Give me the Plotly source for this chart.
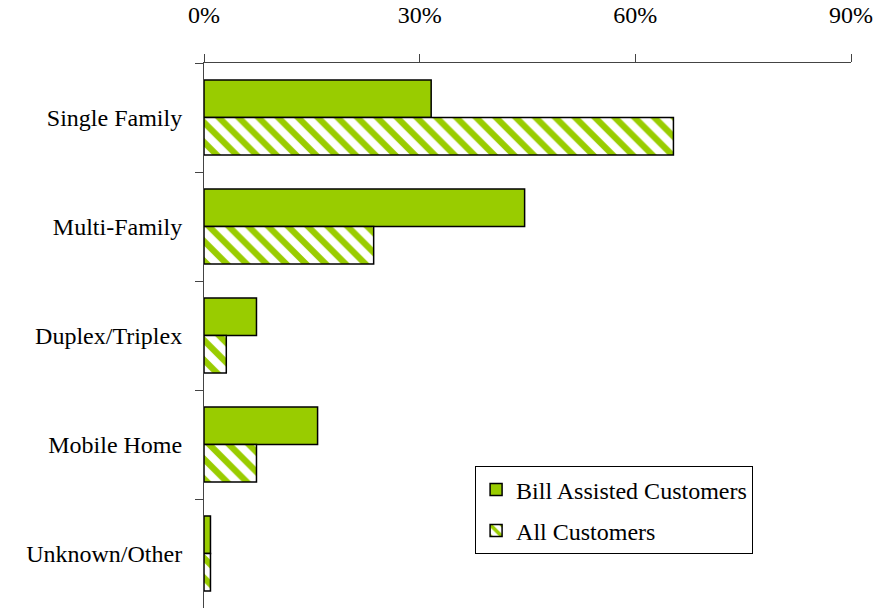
import plotly.graph_objects as go

categories = ["Single Family", "Multi-Family", "Duplex/Triplex", "Mobile Home", "Unknown/Other"]
bill_assisted = [31.6, 44.6, 7.3, 15.8, 0.9]
all_customers = [65.3, 23.6, 3.1, 7.3, 0.9]
x_ticks = [0, 30, 60, 90]
x_tick_labels = ["0%", "30%", "60%", "90%"]

GREEN = "#99CC00"
FONT = "Liberation Serif"

fig = go.Figure()
fig.add_trace(go.Bar(
    y=categories, x=bill_assisted, orientation="h", name="Bill Assisted Customers",
    legendgroup="a",
    marker=dict(color=GREEN, line=dict(color="black", width=1.5)),
))
fig.add_trace(go.Bar(
    y=categories, x=all_customers, orientation="h", name="All Customers",
    legendgroup="b",
    marker=dict(color="white", line=dict(color="black", width=1.5),
                pattern=dict(shape="\\", fgcolor=GREEN, bgcolor="white", fgopacity=1,
                             size=14, solidity=0.45)),
))

fig.update_layout(
    width=876, height=610,
    margin=dict(l=204, r=25, t=60, b=2),
    paper_bgcolor="white", plot_bgcolor="white",
    barmode="group", bargap=0.31, bargroupgap=0,
    font=dict(family=FONT, size=24, color="black"),
    showlegend=True,
    legend=dict(x=0.419, y=0.26, xanchor="left", yanchor="top",
                traceorder="grouped", tracegroupgap=7,
                bordercolor="black", borderwidth=1, bgcolor="white",
                font=dict(family=FONT, size=24, color="black")),
    xaxis=dict(side="top", range=[0, 90], tickvals=x_ticks, ticktext=x_tick_labels,
               showgrid=False, zeroline=False, showline=True, linecolor="#444", linewidth=1,
               ticks="outside", ticklen=8, tickcolor="#444", ticklabelstandoff=21,
               tickfont=dict(family=FONT, size=24, color="black")),
    yaxis=dict(autorange="reversed", showgrid=False, zeroline=False, showline=True,
               linecolor="#444", linewidth=1, ticks="outside", ticklen=8, tickcolor="#444",
               tickson="boundaries", ticklabelstandoff=16,
               tickfont=dict(family=FONT, size=24, color="black")),
)

fig.write_html("out.html")
